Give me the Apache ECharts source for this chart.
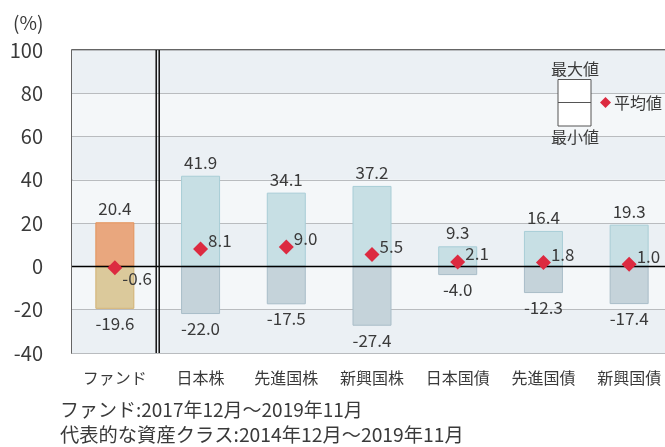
<!DOCTYPE html>
<html><head><meta charset="utf-8">
<script src="https://cdn.jsdelivr.net/npm/echarts@6/dist/echarts.min.js"></script>
<style>html,body{margin:0;padding:0;background:#fff;overflow:hidden}#c{width:680px;height:447px}</style>
</head><body><div id="c"></div>
<script>
const categories = ['ファンド', '日本株', '先進国株', '新興国株', '日本国債', '先進国債', '新興国債'];
const maxValues = [20.4, 41.9, 34.1, 37.2, 9.3, 16.4, 19.3];
const minValues = [-19.6, -22.0, -17.5, -27.4, -4.0, -12.3, -17.4];
const meanValues = [-0.6, 8.1, 9.0, 5.5, 2.1, 1.8, 1.0];
const yMin = -40, yMax = 100, yStep = 20;
const footnotes = ['ファンド:2017年12月～2019年11月', '代表的な資産クラス:2014年12月～2019年11月'];
const legendLabels = { max: '最大値', min: '最小値', mean: '平均値' };

const FONT = '"Noto Sans CJK JP", "Noto Sans", sans-serif';
const TXT = '#3a3a3a';
const posStyle = (i) => i === 0
  ? { color: '#E9A77E', borderColor: '#E3935A', borderWidth: 1 }
  : { color: '#C7DFE4', borderColor: '#A8CDD6', borderWidth: 1 };
const negStyle = (i) => i === 0
  ? { color: '#DBC99B', borderColor: '#D2B272', borderWidth: 1 }
  : { color: '#C5D3DA', borderColor: '#A9BDC8', borderWidth: 1 };

const chart = echarts.init(document.getElementById('c'), null, { renderer: 'canvas' });
const option = {
  animation: false,
  textStyle: { fontFamily: FONT, color: TXT },
  grid: { left: 72, top: 50, width: 600, height: 303, show: true, borderColor: '#333', borderWidth: 1.5, backgroundColor: 'transparent' },
  xAxis: {
    type: 'category', data: categories,
    axisLine: { show: false }, axisTick: { show: false },
    axisLabel: { fontSize: 16, color: TXT, margin: 17, fontFamily: FONT }
  },
  yAxis: {
    type: 'value', min: yMin, max: yMax, interval: yStep,
    axisLine: { show: false }, axisTick: { show: false },
    axisLabel: { fontSize: 20, color: TXT, margin: 29, fontFamily: FONT },
    splitLine: { show: true, lineStyle: { color: '#B9BCBF', width: 1 } },
    splitArea: { show: true, areaStyle: { color: ['#EBF0F4', '#F4F7F9'] } }
  },
  series: [
    {
      name: 'max', type: 'bar', barWidth: 39, barGap: '-100%',
      data: maxValues.map((v, i) => ({ value: v, itemStyle: posStyle(i) })),
      label: { show: true, position: 'top', distance: 5, fontSize: 17, color: TXT, fontFamily: FONT,
        formatter: p => p.value.toFixed(1) },
      markLine: {
        silent: true, symbol: 'none', label: { show: false },
        lineStyle: { color: '#000', width: 1.3, type: 'solid' },
        data: [{ yAxis: 0 }], z: 5
      }
    },
    {
      name: 'min', type: 'bar', barWidth: 39, barGap: '-100%',
      data: minValues.map((v, i) => ({ value: v, itemStyle: negStyle(i) })),
      label: { show: true, position: 'bottom', distance: 6, fontSize: 17, color: TXT, fontFamily: FONT,
        formatter: p => p.value.toFixed(1) }
    },
    {
      name: 'mean', type: 'scatter', symbol: 'diamond', symbolSize: 15, z: 10,
      itemStyle: { color: '#DC2A40', opacity: 1 },
      data: meanValues.map((v, i) => ({
        value: v,
        label: { offset: i === 0 ? [0, 11] : [0, -8] }
      })),
      label: { show: true, position: 'right', distance: 0, fontSize: 17, color: TXT, fontFamily: FONT,
        formatter: p => p.value.toFixed(1) }
    }
  ]
};
chart.setOption(option);

const x0 = chart.convertToPixel({ xAxisIndex: 0 }, categories[0]);
const x1 = chart.convertToPixel({ xAxisIndex: 0 }, categories[1]);
const bx = (x0 + x1) / 2;
const yTop = chart.convertToPixel({ yAxisIndex: 0 }, yMax);
const yBot = chart.convertToPixel({ yAxisIndex: 0 }, yMin);

chart.setOption({
  graphic: [
    { type: 'line', shape: { x1: bx - 1.5, y1: yTop, x2: bx - 1.5, y2: yBot }, style: { stroke: '#111', lineWidth: 1.5 }, z: 20 },
    { type: 'line', shape: { x1: bx + 1.5, y1: yTop, x2: bx + 1.5, y2: yBot }, style: { stroke: '#111', lineWidth: 1.5 }, z: 20 },
    { type: 'text', left: 13, top: 13, style: { text: '(%)', font: '19px ' + FONT, fill: TXT } },
    { type: 'text', left: 60, top: 400, style: { text: footnotes[0], font: '19px ' + FONT, fill: TXT } },
    { type: 'text', left: 60, top: 425, style: { text: footnotes[1], font: '19.3px ' + FONT, fill: TXT } },
    // legend
    { type: 'rect', shape: { x: 558, y: 79.5, width: 33, height: 46.5 }, style: { fill: '#fff', stroke: '#555', lineWidth: 1 }, z: 20 },
    { type: 'line', shape: { x1: 558, y1: 102.5, x2: 591, y2: 102.5 }, style: { stroke: '#555', lineWidth: 1 }, z: 21 },
    { type: 'text', x: 575, y: 69, style: { text: legendLabels.max, font: '16px ' + FONT, fill: TXT, align: 'center', verticalAlign: 'middle' }, z: 21 },
    { type: 'text', x: 575, y: 137, style: { text: legendLabels.min, font: '16px ' + FONT, fill: TXT, align: 'center', verticalAlign: 'middle' }, z: 21 },
    { type: 'polygon', shape: { points: [[605.5, 97], [611, 102.5], [605.5, 108], [600, 102.5]] }, style: { fill: '#DC2A40' }, z: 21 },
    { type: 'text', x: 614, y: 102.5, style: { text: legendLabels.mean, font: '16px ' + FONT, fill: TXT, align: 'left', verticalAlign: 'middle' }, z: 21 }
  ]
});
</script>
</body></html>
